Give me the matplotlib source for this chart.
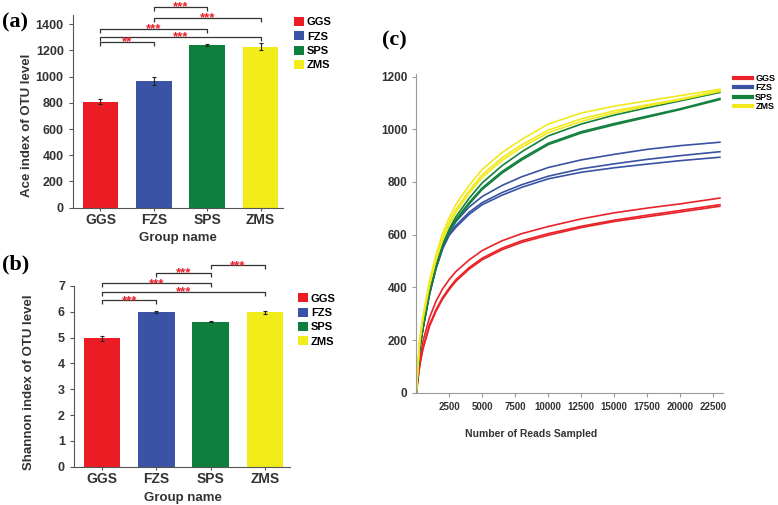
import matplotlib
matplotlib.use("Agg")
import matplotlib.pyplot as plt
from matplotlib.patches import Patch
from matplotlib.lines import Line2D

plt.rcParams['font.family'] = ['Liberation Sans', 'DejaVu Sans']
plt.rcParams['font.weight'] = 'bold'
plt.rcParams['axes.labelweight'] = 'bold'

# ---- data ----
groups = ["GGS", "FZS", "SPS", "ZMS"]
bar_colors = ["#ec1c24", "#3a53a4", "#0f7f3e", "#f2ec1b"]
line_colors = ["#e8232a", "#3a52a3", "#13813e", "#f1e91c"]

ace_mean = [810, 968, 1242, 1229]
ace_err = [20, 32, 10, 25]
ace_pairs = [(0, 1), (0, 3), (0, 2), (1, 3), (1, 2)]
ace_heights = [1267, 1303, 1364, 1450, 1534]
ace_stars = ["**", "***", "***", "***", "***"]

shannon_mean = [4.98, 6.0, 5.61, 5.98]
shannon_err = [0.1, 0.03, 0.02, 0.05]
shannon_pairs = [(0, 1), (0, 3), (0, 2), (1, 2), (2, 3)]
shannon_heights = [6.45, 6.78, 7.10, 7.51, 7.81]
shannon_stars = ["***", "***", "***", "***", "***"]

reads = [0, 250, 500, 1000, 1500, 2000, 2500, 3000, 4000, 5000, 6500, 8000,
         10000, 12500, 15000, 17500, 20000, 23000]
ggs_curves = [
    [0, 120, 195, 285, 348, 395, 430, 460, 504, 540, 577, 604, 631, 660, 683, 701, 717, 739],
    [0, 104, 170, 258, 316, 362, 398, 429, 475, 511, 549, 577, 604, 632, 655, 674, 692, 714],
    [0, 100, 165, 252, 310, 356, 392, 423, 469, 505, 543, 571, 598, 627, 650, 668, 686, 708],
]
fzs_curves = [
    [0, 168, 245, 378, 478, 555, 610, 650, 705, 745, 787, 820, 855, 884, 905, 924, 938, 951],
    [0, 166, 243, 375, 474, 550, 603, 635, 685, 722, 760, 790, 822, 850, 869, 886, 900, 915],
    [0, 165, 241, 373, 472, 547, 598, 628, 677, 714, 750, 780, 812, 837, 854, 868, 881, 894],
]
sps_curves = [
    [0, 172, 248, 382, 482, 563, 622, 668, 738, 797, 862, 915, 975, 1020, 1054, 1082, 1108, 1140],
    [0, 170, 245, 380, 480, 560, 617, 657, 722, 778, 840, 890, 947, 991, 1022, 1050, 1078, 1117],
    [0, 169, 244, 378, 478, 558, 614, 652, 716, 772, 834, 884, 942, 986, 1017, 1046, 1075, 1113],
]
zms_curves = [
    [0, 200, 290, 425, 525, 605, 665, 715, 787, 848, 912, 962, 1020, 1062, 1088, 1108, 1128, 1152],
    [0, 195, 283, 415, 513, 590, 648, 695, 767, 828, 892, 942, 997, 1040, 1070, 1093, 1115, 1147],
    [0, 192, 278, 408, 505, 582, 638, 685, 757, 818, 882, 932, 987, 1030, 1062, 1088, 1112, 1144],
]
all_curves = [ggs_curves, fzs_curves, sps_curves, zms_curves]

W, H = 778, 505
fig = plt.figure(figsize=(W / 100, H / 100), dpi=100)


def px_axes(left, top, right, bottom):
    return fig.add_axes([left / W, 1 - bottom / H, (right - left) / W, (bottom - top) / H])


def bracket(ax, i, j, y, h, label):
    ax.plot([i, i, j, j], [y - h, y, y, y - h], color="#333333", lw=0.9,
            clip_on=False, solid_capstyle="butt")
    ax.annotate(label, xy=((i + j) / 2, y), xytext=(0, -2.7), textcoords="offset points",
                ha="center", va="baseline", color="#e8202a", fontsize=9.5,
                fontweight="bold", annotation_clip=False)


def bar_panel(ax, means, errs, pairs, heights, stars, drop, ylabel, ylab_pos):
    x = range(len(groups))
    ax.bar(x, means, width=0.67, color=bar_colors, yerr=errs,
           error_kw=dict(ecolor="#222222", elinewidth=0.8, capsize=1.5, capthick=0.8))
    for (i, j), y, s in zip(pairs, heights, stars):
        bracket(ax, i, j, y, drop, s)
    ax.set_xticks(list(x))
    ax.set_xticklabels(groups, fontsize=10, color="#333333", fontweight="bold")
    ax.tick_params(axis="y", labelsize=9, labelcolor="#333333", length=3, width=0.8, color="#555555")
    ax.tick_params(axis="x", length=2, width=0.8, color="#555555", pad=2)
    for s in ["top", "right"]:
        ax.spines[s].set_visible(False)
    ax.spines["left"].set_color("#555555")
    ax.spines["bottom"].set_color("#555555")
    ax.set_ylabel(ylabel, fontsize=9.5, color="#333333", fontweight="bold")
    ax.yaxis.set_label_coords(*ylab_pos)
    ax.set_xlabel("Group name", fontsize=9.5, color="#333333", fontweight="bold")
    handles = [Patch(facecolor=c, edgecolor="none", label=g) for g, c in zip(groups, bar_colors)]
    return handles


# (a) Ace index
ax1 = px_axes(72.7, 15, 283, 207.7)
h1 = bar_panel(ax1, ace_mean, ace_err, ace_pairs, ace_heights, ace_stars, 30,
               "Ace index of OTU level", (-0.19, 0.43))
ax1.set_xlim(-0.52, 3.42)
ax1.set_ylim(0, 1470)
ax1.set_yticks(range(0, 1401, 200))
ax1.xaxis.set_label_coords(0.5, -0.125)
ax1.legend(handles=h1, loc="upper left", bbox_to_anchor=(1.05, 0.99), frameon=False,
           fontsize=8, handlelength=0.9, handleheight=0.9, handletextpad=0.3,
           labelspacing=0.35, borderpad=0, borderaxespad=0)

# (b) Shannon index
ax2 = px_axes(74, 286, 290, 466.7)
h2 = bar_panel(ax2, shannon_mean, shannon_err, shannon_pairs, shannon_heights, shannon_stars, 0.15,
               "Shannon index of OTU level", (-0.18, 0.47))
ax2.set_xlim(-0.516, 3.46)
ax2.set_ylim(0, 7)
ax2.set_yticks(range(0, 8))
ax2.xaxis.set_label_coords(0.505, -0.14)
ax2.legend(handles=h2, loc="upper left", bbox_to_anchor=(1.035, 0.96), frameon=False,
           fontsize=8, handlelength=0.9, handleheight=0.9, handletextpad=0.3,
           labelspacing=0.35, borderpad=0, borderaxespad=0)

# (c) rarefaction curves
ax3 = px_axes(416.3, 74, 723, 392.7)
for curves, c in zip(all_curves, line_colors):
    for ys in curves:
        ax3.plot(reads, ys, color=c, lw=1.2)
ax3.set_xlim(0, 23235)
ax3.set_ylim(0, 1210)
ax3.set_xticks(range(2500, 22501, 2500))
ax3.set_yticks(range(0, 1201, 200))
ax3.tick_params(axis="x", labelsize=7, labelcolor="#333333", length=3, width=0.8, color="#999999")
ax3.tick_params(axis="y", labelsize=8.5, labelcolor="#333333", length=3, width=0.8, color="#999999")
for s in ["top", "right"]:
    ax3.spines[s].set_visible(False)
ax3.spines["left"].set_color("#999999")
ax3.spines["bottom"].set_color("#999999")
ax3.set_xlabel("Number of Reads Sampled", fontsize=7.5, color="#333333", fontweight="bold")
ax3.xaxis.set_label_coords(0.374, -0.115)
h3 = [Line2D([0], [0], color=c, lw=3, label=g) for g, c in zip(groups, line_colors)]
ax3.legend(handles=h3, loc="upper left", bbox_to_anchor=(1.036, 1.0), frameon=False,
           fontsize=6.5, handlelength=2.0, handletextpad=0.35, labelspacing=0.05,
           borderpad=0, borderaxespad=0)

# panel letters
for lab, xp, yp in [("(a)", 2, 22), ("(b)", 2, 264), ("(c)", 382, 40)]:
    fig.text(xp / W, 1 - yp / H, lab, fontsize=16, fontweight="bold",
             family=["Liberation Serif", "DejaVu Serif"], va="center", ha="left")

fig.savefig("out.png", dpi=100)
